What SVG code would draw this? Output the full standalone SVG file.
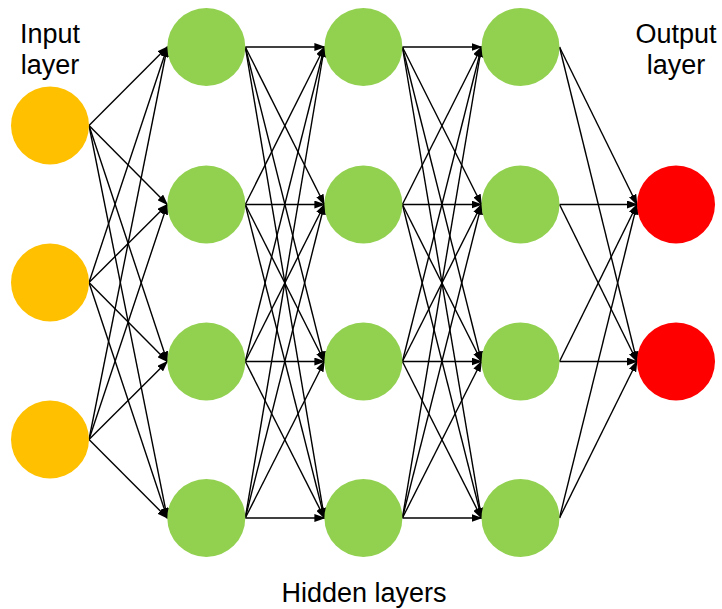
<svg xmlns="http://www.w3.org/2000/svg" width="722" height="609" viewBox="0 0 722 609">
<style>
.in{fill:#FFC000}
.hid{fill:#92D050}
.out{fill:#FF0000}
.lbl{font-family:"Liberation Sans",Arial,sans-serif;font-size:27px;fill:#000;text-anchor:middle}
#edges line{stroke:#000;stroke-width:1.4;marker-end:url(#a)}
</style>
<defs>
<marker id="a" markerWidth="11" markerHeight="8" refX="10" refY="4" orient="auto" markerUnits="userSpaceOnUse"><path d="M0,0 L11,4 L0,8 z" fill="#000"/></marker>
</defs>
<rect width="722" height="609" fill="#fff"/>
<g id="edges">
<line x1="89" y1="125.5" x2="167.3" y2="47"/>
<line x1="89" y1="125.5" x2="167.3" y2="204.5"/>
<line x1="89" y1="125.5" x2="167.3" y2="361.5"/>
<line x1="89" y1="125.5" x2="167.3" y2="518"/>
<line x1="89" y1="282.5" x2="167.3" y2="47"/>
<line x1="89" y1="282.5" x2="167.3" y2="204.5"/>
<line x1="89" y1="282.5" x2="167.3" y2="361.5"/>
<line x1="89" y1="282.5" x2="167.3" y2="518"/>
<line x1="89" y1="439.5" x2="167.3" y2="47"/>
<line x1="89" y1="439.5" x2="167.3" y2="204.5"/>
<line x1="89" y1="439.5" x2="167.3" y2="361.5"/>
<line x1="89" y1="439.5" x2="167.3" y2="518"/>

<line x1="245.3" y1="47" x2="324.4" y2="47"/>
<line x1="245.3" y1="47" x2="324.4" y2="204.5"/>
<line x1="245.3" y1="47" x2="324.4" y2="361.5"/>
<line x1="245.3" y1="47" x2="324.4" y2="518"/>
<line x1="245.3" y1="204.5" x2="324.4" y2="47"/>
<line x1="245.3" y1="204.5" x2="324.4" y2="204.5"/>
<line x1="245.3" y1="204.5" x2="324.4" y2="361.5"/>
<line x1="245.3" y1="204.5" x2="324.4" y2="518"/>
<line x1="245.3" y1="361.5" x2="324.4" y2="47"/>
<line x1="245.3" y1="361.5" x2="324.4" y2="204.5"/>
<line x1="245.3" y1="361.5" x2="324.4" y2="361.5"/>
<line x1="245.3" y1="361.5" x2="324.4" y2="518"/>
<line x1="245.3" y1="518" x2="324.4" y2="47"/>
<line x1="245.3" y1="518" x2="324.4" y2="204.5"/>
<line x1="245.3" y1="518" x2="324.4" y2="361.5"/>
<line x1="245.3" y1="518" x2="324.4" y2="518"/>

<line x1="402.4" y1="47" x2="481.5" y2="47"/>
<line x1="402.4" y1="47" x2="481.5" y2="204.5"/>
<line x1="402.4" y1="47" x2="481.5" y2="361.5"/>
<line x1="402.4" y1="47" x2="481.5" y2="518"/>
<line x1="402.4" y1="204.5" x2="481.5" y2="47"/>
<line x1="402.4" y1="204.5" x2="481.5" y2="204.5"/>
<line x1="402.4" y1="204.5" x2="481.5" y2="361.5"/>
<line x1="402.4" y1="204.5" x2="481.5" y2="518"/>
<line x1="402.4" y1="361.5" x2="481.5" y2="47"/>
<line x1="402.4" y1="361.5" x2="481.5" y2="204.5"/>
<line x1="402.4" y1="361.5" x2="481.5" y2="361.5"/>
<line x1="402.4" y1="361.5" x2="481.5" y2="518"/>
<line x1="402.4" y1="518" x2="481.5" y2="47"/>
<line x1="402.4" y1="518" x2="481.5" y2="204.5"/>
<line x1="402.4" y1="518" x2="481.5" y2="361.5"/>
<line x1="402.4" y1="518" x2="481.5" y2="518"/>

<line x1="559.5" y1="47" x2="637" y2="204.5"/>
<line x1="559.5" y1="47" x2="637" y2="361.5"/>
<line x1="559.5" y1="204.5" x2="637" y2="204.5"/>
<line x1="559.5" y1="204.5" x2="637" y2="361.5"/>
<line x1="559.5" y1="361.5" x2="637" y2="204.5"/>
<line x1="559.5" y1="361.5" x2="637" y2="361.5"/>
<line x1="559.5" y1="518" x2="637" y2="204.5"/>
<line x1="559.5" y1="518" x2="637" y2="361.5"/>
</g>
<g id="in1"><circle class="in" cx="50" cy="125.5" r="39"/></g>
<g id="in2"><circle class="in" cx="50" cy="282.5" r="39"/></g>
<g id="in3"><circle class="in" cx="50" cy="439.5" r="39"/></g>
<g id="h1n1"><circle class="hid" cx="206.3" cy="47" r="39"/></g>
<g id="h1n2"><circle class="hid" cx="206.3" cy="204.5" r="39"/></g>
<g id="h1n3"><circle class="hid" cx="206.3" cy="361.5" r="39"/></g>
<g id="h1n4"><circle class="hid" cx="206.3" cy="518" r="39"/></g>
<g id="h2n1"><circle class="hid" cx="363.4" cy="47" r="39"/></g>
<g id="h2n2"><circle class="hid" cx="363.4" cy="204.5" r="39"/></g>
<g id="h2n3"><circle class="hid" cx="363.4" cy="361.5" r="39"/></g>
<g id="h2n4"><circle class="hid" cx="363.4" cy="518" r="39"/></g>
<g id="h3n1"><circle class="hid" cx="520.5" cy="47" r="39"/></g>
<g id="h3n2"><circle class="hid" cx="520.5" cy="204.5" r="39"/></g>
<g id="h3n3"><circle class="hid" cx="520.5" cy="361.5" r="39"/></g>
<g id="h3n4"><circle class="hid" cx="520.5" cy="518" r="39"/></g>
<g id="out1"><circle class="out" cx="676" cy="204.5" r="39"/></g>
<g id="out2"><circle class="out" cx="676" cy="361.5" r="39"/></g>
<g id="labels">
<text class="lbl" x="50" y="42.5">Input</text>
<text class="lbl" x="50" y="74">layer</text>
<text class="lbl" x="676" y="42.5">Output</text>
<text class="lbl" x="676" y="74">layer</text>
<text class="lbl" x="364" y="601.5">Hidden layers</text>
</g>
</svg>
